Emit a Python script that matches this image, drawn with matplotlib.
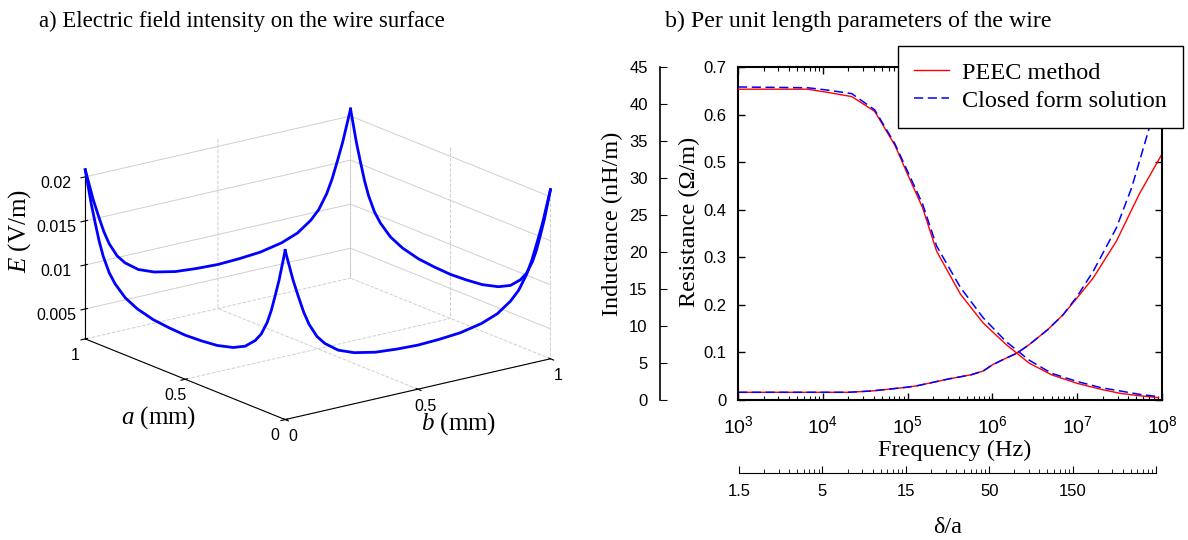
import matplotlib
matplotlib.use("Agg")
import matplotlib.pyplot as plt
import numpy as np
from matplotlib.ticker import LogLocator, NullFormatter

plt.rcParams["font.family"] = ["Liberation Sans", "DejaVu Sans"]
plt.rcParams["mathtext.fontset"] = "custom"
plt.rcParams["mathtext.it"] = "Liberation Serif:italic"
plt.rcParams["mathtext.rm"] = "Liberation Sans"
SERIF = ["Liberation Serif", "DejaVu Serif"]

# ---- a) field along one side of the square section (corner -> corner), V/m
edge_pos = [0, 0.015, 0.03, 0.05, 0.07, 0.09, 0.12, 0.15, 0.2, 0.26, 0.34, 0.42, 0.5,
            0.58, 0.66, 0.74, 0.8, 0.85, 0.88, 0.91, 0.93, 0.95, 0.97, 0.985, 1.0]
edge_e = [0.0208, 0.0190, 0.0172, 0.0152, 0.0133, 0.0118, 0.0102, 0.0092, 0.0081, 0.0074,
          0.0069, 0.0067, 0.0066, 0.0067, 0.0069, 0.0074, 0.0081, 0.0092, 0.0102, 0.0118,
          0.0133, 0.0152, 0.0172, 0.0190, 0.0208]
e_ticks = [0.005, 0.01, 0.015, 0.02]
e_ticklabels = ["0.005", "0.01", "0.015", "0.02"]

# ---- b) per unit length parameters
freq_l_peec = [1e3, 6.6e3, 1.1e4, 2.2e4, 4.1e4, 7.1e4, 1e5, 1.5e5, 2.2e5, 4.2e5, 7.8e5,
               1.45e6, 2.7e6, 5e6, 1e7, 1.9e7, 3.2e7, 5.4e7, 9.1e7]
ind_peec = [42.0, 42.0, 41.6, 41.0, 39.0, 34.4, 30.5, 26.0, 20.1, 14.3, 10.4,
            7.5, 5.0, 3.4, 2.25, 1.45, 0.9, 0.58, 0.32]
freq_l_cf = [1e3, 6.6e3, 1.1e4, 2.2e4, 4.1e4, 7.1e4, 1.5e5, 2.2e5, 4.2e5, 7.8e5,
             1.45e6, 2.7e6, 5e6, 1e7, 1.9e7, 5.4e7, 9.1e7]
ind_cf = [42.3, 42.2, 41.9, 41.4, 39.2, 34.6, 26.5, 20.8, 15.2, 11.1,
          7.9, 5.4, 3.6, 2.5, 1.67, 0.77, 0.45]

freq_r_peec = [1e3, 1e4, 2.0e4, 3.8e4, 1e5, 1.3e5, 3e5, 5.6e5, 7.8e5, 1e6, 1.45e6,
               1.95e6, 2.7e6, 4.5e6, 6.8e6, 1e7, 1.55e7, 2.9e7, 5.4e7, 1e8]
res_peec = [0.0162, 0.0162, 0.0162, 0.019, 0.027, 0.030, 0.044, 0.053, 0.061, 0.074, 0.088,
            0.0985, 0.116, 0.148, 0.179, 0.215, 0.257, 0.334, 0.433, 0.517]
freq_r_cf = [1e3, 1e4, 2.0e4, 3.8e4, 1e5, 1.3e5, 3e5, 5.6e5, 7.8e5, 1e6, 1.45e6,
             1.95e6, 2.7e6, 4.5e6, 6.8e6, 1e7, 1.55e7, 2.9e7, 4.4e7, 5.9e7, 7.3e7, 1e8]
res_cf = [0.0162, 0.0162, 0.0162, 0.019, 0.027, 0.030, 0.044, 0.053, 0.061, 0.074, 0.088,
          0.0985, 0.116, 0.148, 0.179, 0.218, 0.271, 0.362, 0.447, 0.524, 0.58, 0.68]

delta_ticks = [1e3, 1e4, 1e5, 1e6, 1e7, 1e8]
delta_labels = ["1.5", "5", "15", "50", "150", ""]

fig = plt.figure(figsize=(11.88, 5.4), dpi=100)
W, H = 1188.0, 540.0

# ================= left: 3D plot =================
plt.rcParams["grid.color"] = "#cfcfcf"
plt.rcParams["grid.linewidth"] = 0.7
ax3 = fig.add_axes([-0.0205, 0.048, 0.565, 0.904], projection="3d")
ax3.set_proj_type("ortho")
ax3.view_init(elev=17.7, azim=-127)
ax3.set_box_aspect((1, 1, 0.54))

pos = np.array(edge_pos)
ee = np.array(edge_e)
zeros = np.zeros_like(pos)
ones = np.ones_like(pos)
# x = b, y = a
ax3.plot(zeros, pos, ee, color="#0000ff", lw=2)   # b = 0
ax3.plot(pos, ones, ee, color="#0000ff", lw=2)    # a = 1
ax3.plot(pos, zeros, ee, color="#0000ff", lw=2)   # a = 0
ax3.plot(ones, pos, ee, color="#0000ff", lw=2)    # b = 1

ax3.set_xlim(0, 1)
ax3.set_ylim(0, 1)
ax3.set_zlim(0.0016, 0.021)
ax3.set_xticks([0, 0.5, 1])
ax3.set_xticklabels(["0", "0.5", "1"])
ax3.set_yticks([0, 0.5, 1])
ax3.set_yticklabels(["0", "0.5", "1"])
ax3.set_zticks(e_ticks)
ax3.set_zticklabels(e_ticklabels)
ax3.tick_params(labelsize=11.5)
ax3.xaxis.set_tick_params(pad=-1)
ax3.yaxis.set_tick_params(pad=-1)
for axis in (ax3.xaxis, ax3.yaxis, ax3.zaxis):
    axis.set_pane_color((1, 1, 1, 0))
    axis.pane.set_edgecolor("#cfcfcf")
    axis.line.set_color("black")
ax3.xaxis._axinfo["grid"]["linestyle"] = "--"
ax3.yaxis._axinfo["grid"]["linestyle"] = "--"

fig.text(159 / W, 1 - 418 / H, r"$\mathit{a}$ (mm)", family=SERIF, size=18,
         ha="center", va="center")
fig.text(459 / W, 1 - 424 / H, r"$\mathit{b}$ (mm)", family=SERIF, size=18,
         ha="center", va="center")
fig.text(20 / W, 1 - 231 / H, r"$\mathit{E}$ (V/m)", family=SERIF, size=18,
         ha="center", va="center", rotation=90)

fig.text(39 / W, 1 - 21 / H, "a) Electric field intensity on the wire surface",
         family=SERIF, size=16.4, ha="left", va="center")
fig.text(665 / W, 1 - 21 / H, "b) Per unit length parameters of the wire",
         family=SERIF, size=17.2, ha="left", va="center")

# ================= right: R and L vs frequency =================
ax_r = fig.add_axes([738 / W, 1 - 400 / H, (1162 - 738) / W, (400 - 67) / H])
ax_l = ax_r.twinx()
ax_r.set_xscale("log")
ax_r.set_xlim(1e3, 1e8)
ax_r.set_ylim(0, 0.7)
ax_l.set_ylim(0, 45)

ax_l.plot(freq_l_peec, ind_peec, color="red", lw=1.0)
ax_l.plot(freq_l_cf, ind_cf, color="blue", lw=1.1, dashes=(6, 3))
ax_r.plot(freq_r_peec, res_peec, color="red", lw=1.0, label="PEEC method")
ax_r.plot(freq_r_cf, res_cf, color="blue", lw=1.1, dashes=(6, 3), label="Closed form solution")

ax_r.set_yticks(np.arange(0, 0.71, 0.1))
ax_r.set_yticklabels(["0", "0.1", "0.2", "0.3", "0.4", "0.5", "0.6", "0.7"])
ax_r.xaxis.set_major_locator(LogLocator(base=10, numticks=10))
ax_r.xaxis.set_minor_locator(LogLocator(base=10, subs=np.arange(2, 10), numticks=100))
ax_r.xaxis.set_minor_formatter(NullFormatter())
ax_r.tick_params(axis="both", which="both", direction="in", top=True, right=True)
ax_r.tick_params(which="major", length=5, width=1)
ax_r.tick_params(which="minor", length=3, width=0.8)
ax_r.tick_params(axis="x", labelsize=14, pad=11)
ax_r.tick_params(axis="y", labelsize=12, pad=8.5)
for s in ax_r.spines.values():
    s.set_linewidth(1.5)

ax_l.yaxis.set_ticks_position("left")
ax_l.yaxis.set_label_position("left")
ax_l.spines["left"].set_position(("outward", 56))
ax_l.spines["left"].set_linewidth(1.2)
for s in ("right", "top", "bottom"):
    ax_l.spines[s].set_visible(False)
ax_l.set_yticks(np.arange(0, 46, 5))
ax_l.tick_params(axis="y", direction="in", length=5, labelsize=12, pad=9)

ax_l.set_ylabel("Inductance (nH/m)", family=SERIF, size=17.5)
ax_r.set_ylabel("Resistance (\u03a9/m)", family=SERIF, size=17.5)
ax_r.set_xlabel("Frequency (Hz)", family=SERIF, size=17.5)
ax_l.yaxis.set_label_coords(-0.271, 0.53)
ax_r.yaxis.set_label_coords(-0.089, 0.535)
ax_r.xaxis.set_label_coords(0.512, -0.12)

# delta/a scale under the frequency axis
ax_d = fig.add_axes([739 / W, 1 - 473 / H, (1156 - 739) / W, 0.0001])
ax_d.patch.set_visible(False)
ax_d.set_xscale("log")
ax_d.set_xlim(1e3, 1e8)
ax_d.set_yticks([])
for s in ("left", "right", "top"):
    ax_d.spines[s].set_visible(False)
ax_d.set_xticks(delta_ticks)
ax_d.set_xticklabels(delta_labels)
ax_d.xaxis.set_minor_locator(LogLocator(base=10, subs=np.arange(2, 10), numticks=100))
ax_d.xaxis.set_minor_formatter(NullFormatter())
ax_d.tick_params(axis="x", which="both", direction="in", labelsize=12, pad=8)
ax_d.tick_params(which="major", length=5)
ax_d.tick_params(which="minor", length=3)
ax_d.set_xlabel("\u03b4/a", family=SERIF, size=17.5, labelpad=13)

handles, labels = ax_r.get_legend_handles_labels()
leg = fig.legend(handles, labels, loc="upper left", bbox_to_anchor=(898 / W, 1 - 46 / H),
                 frameon=True, fancybox=False, edgecolor="black", framealpha=1,
                 prop={"family": SERIF, "size": 17.5}, handlelength=1.45,
                 handletextpad=0.55, borderpad=0.65, labelspacing=0.25, borderaxespad=0)
leg.get_frame().set_linewidth(1.0)

fig.savefig("out.png", dpi=100)
